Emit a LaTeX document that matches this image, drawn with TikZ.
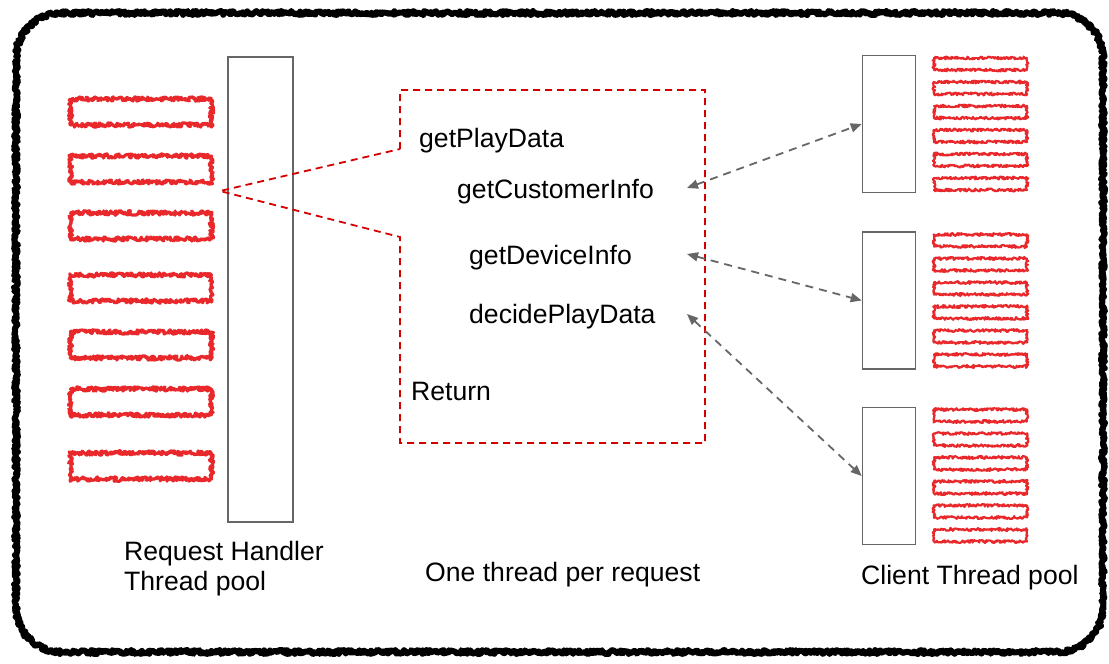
\documentclass[tikz,border=0pt]{standalone}
\usepackage{fontspec}
\setmainfont{Liberation Sans}
\usepackage{xcolor}
\usepackage{tikz}
\usetikzlibrary{arrows.meta,decorations.pathmorphing}

\definecolor{poolgray}{HTML}{666666}
\definecolor{callred}{HTML}{D40000}
\definecolor{barred}{HTML}{E8282B}

\begin{document}
\begin{tikzpicture}[
    x=1pt, y=-1pt,
    frame/.style={draw=black, line width=6pt, line join=round, decorate, decoration={random steps, segment length=1.2pt, amplitude=2pt}},
    reqbar/.style={rectangle, draw=barred, line width=3.2pt, line join=round, minimum width=141pt, minimum height=26pt, inner sep=0pt, decorate, decoration={random steps, segment length=0.9pt, amplitude=2.2pt}},
    clibar/.style={rectangle, draw=barred, line width=2.2pt, line join=round, minimum width=93pt, minimum height=12pt, inner sep=0pt, decorate, decoration={random steps, segment length=0.9pt, amplitude=1.4pt}},
    pool/.style={rectangle, draw=poolgray, line width=1.6pt, inner sep=0pt},
    callout/.style={draw=callred, line width=1.8pt, dash pattern=on 7pt off 5pt},
    link/.style={draw=poolgray, line width=1.8pt, dash pattern=on 8pt off 6pt, {Triangle[length=11pt,width=9pt]}-{Triangle[length=11pt,width=9pt]}},
    txt/.style={inner sep=0pt, anchor=base west, font=\fontsize{26.6}{30}\selectfont}
]
\useasboundingbox (0,0) rectangle (1109,664);

% Outer sketchy frame
\draw[frame] (16,58) -- (16,607) arc[start angle=180, end angle=90, radius=45]
    -- (1058,652) arc[start angle=90, end angle=0, radius=45]
    -- (1103,58) arc[start angle=0, end angle=-90, radius=45]
    -- (61,13) arc[start angle=-90, end angle=-180, radius=45] -- cycle;

% Request handler pool
\node[pool, minimum width=65pt, minimum height=465pt] (handler) at (260.5,289.5) {};
\node[reqbar] (rb1) at (141,112) {};
\node[reqbar] (rb2) at (141,169) {};
\node[reqbar] (rb3) at (141,226) {};
\node[reqbar] (rb4) at (141,288) {};
\node[reqbar] (rb5) at (141,345) {};
\node[reqbar] (rb6) at (141,402) {};
\node[reqbar] (rb7) at (141,466) {};
\node[txt, align=left] (handlerlbl) at (124,590) {Request Handler\\Thread pool};

% Client pools
\node[pool, minimum width=53pt, minimum height=137pt] (client1) at (889,124) {};
\node[pool, minimum width=53pt, minimum height=137pt] (client2) at (889,300.5) {};
\node[pool, minimum width=53pt, minimum height=137pt] (client3) at (889,476) {};

\node[clibar] (ca1) at (980.5,64) {};
\node[clibar] (ca2) at (980.5,88) {};
\node[clibar] (ca3) at (980.5,112) {};
\node[clibar] (ca4) at (980.5,136) {};
\node[clibar] (ca5) at (980.5,160) {};
\node[clibar] (ca6) at (980.5,184) {};

\node[clibar] (cb1) at (980.5,240.5) {};
\node[clibar] (cb2) at (980.5,264.5) {};
\node[clibar] (cb3) at (980.5,288.5) {};
\node[clibar] (cb4) at (980.5,312.5) {};
\node[clibar] (cb5) at (980.5,336.5) {};
\node[clibar] (cb6) at (980.5,360.5) {};

\node[clibar] (cc1) at (980.5,415.5) {};
\node[clibar] (cc2) at (980.5,439.5) {};
\node[clibar] (cc3) at (980.5,463.5) {};
\node[clibar] (cc4) at (980.5,487.5) {};
\node[clibar] (cc5) at (980.5,511.5) {};
\node[clibar] (cc6) at (980.5,535.5) {};
\node[txt] (clientlbl) at (861,584) {Client Thread pool};

% Callout for one request
\coordinate (tip) at (220,191);
\draw[callout] (400,149) -- (400,90) -- (705,90) -- (705,443) -- (400,443) -- (400,237) -- (tip) -- cycle;
\node[txt] (playdata) at (419,147) {getPlayData};
\node[txt] (customer) at (457,198) {getCustomerInfo};
\node[txt] (device) at (469,264) {getDeviceInfo};
\node[txt] (decide) at (469,323) {decidePlayData};
\node[txt] (return) at (411,400) {Return};
\node[txt] (perreq) at (425,581) {One thread per request};

% Calls out to the client pools
\coordinate (custport) at (687,188);
\coordinate (deviceport) at (687,254);
\coordinate (decideport) at (687,314);
\draw[link] (custport) -- (client1.west);
\draw[link] (deviceport) -- (client2.west);
\draw[link] (decideport) -- (client3.west);

\end{tikzpicture}
\end{document}
